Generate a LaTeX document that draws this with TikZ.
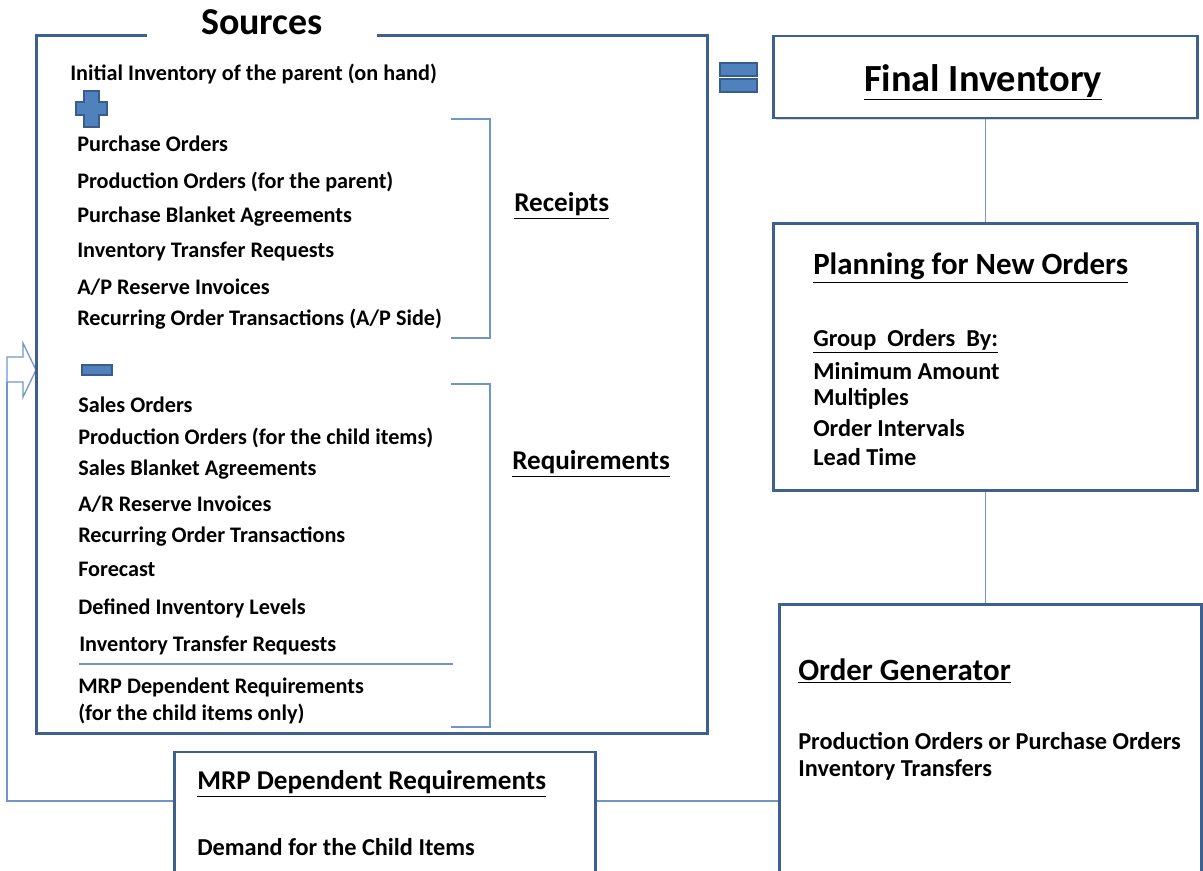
\documentclass[tikz,border=0pt]{standalone}
\usepackage{fontspec}
\setmainfont{Carlito}
\usetikzlibrary{shadows}
\definecolor{boxblue}{RGB}{62,96,145}
\definecolor{lineblue}{RGB}{112,150,200}
\definecolor{signblue}{RGB}{79,129,189}
\definecolor{signedge}{RGB}{56,93,138}

\begin{document}
\begin{tikzpicture}[x=0.025cm,y=-0.025cm,
 box/.style={draw=boxblue,line width=2.1pt,fill=white,drop shadow={shadow xshift=1.2pt,shadow yshift=-1.2pt,opacity=0.3}},
 conn/.style={draw=lineblue,line width=0.9pt},
 brk/.style={draw=lineblue,line width=0.9pt},
 sign/.style={fill=signblue,draw=signedge,line width=0.8pt},
 txt/.style={anchor=west,inner sep=0pt,font=\bfseries\fontsize{15.8}{18}\selectfont},
 rtxt/.style={anchor=west,inner sep=0pt,font=\bfseries\fontsize{17.3}{20}\selectfont},
 sub/.style={anchor=west,inner sep=0pt,font=\bfseries\fontsize{19.3}{22}\selectfont},
 head/.style={anchor=west,inner sep=0pt,font=\bfseries\fontsize{22}{26}\selectfont}]
 \useasboundingbox (0,0) rectangle (1203,870); %page
 \coordinate (fbl) at (7,801); %feedback corner
 \coordinate (fbt) at (7,382); %foot of the open arrow
 \draw[conn] (fbt) -- (7,357) -- (23,357) -- (23,343) -- (36,370) -- (23,397) -- (23,382) -- cycle; %open arrow
 \node[box,minimum width=16.75cm,minimum height=17.425cm] (src) at (372,384.5) {}; %Sources box
 \node[fill=white,minimum width=5.75cm,minimum height=1.1cm,font=\bfseries\fontsize{27}{30}\selectfont] (srctitle) at (262,22) {Sources}; %title in the gap
 \node[box,minimum width=10.575cm,minimum height=2.05cm] (fin) at (985.5,77) {}; %final
 \node[inner sep=0pt,font=\bfseries\fontsize{27.3}{30}\selectfont] (fintitle) at (983,82) {\underline{Final Inventory}};
 \node[box,minimum width=10.575cm,minimum height=6.65cm] (plan) at (985.5,357) {}; %planning
 \node[box,minimum width=10.525cm,minimum height=7cm] (gen) at (990.5,745) {}; %order generator
 \node[box,minimum width=10.5cm,minimum height=3.325cm] (mrp) at (385,818.5) {}; %MRP
 \draw[conn] (fin) -- (plan); %final - planning
 \draw[conn] (plan.south) -- (plan.south |- gen.north); %planning - generator
 \draw[conn] (gen.west |- fbl) -- (mrp.east |- fbl); %generator - MRP
 \draw[conn] (mrp.west |- fbl) -- (fbl) -- (fbt); %MRP back to sources
 \fill[sign] (720,63) rectangle (757,76) (720,79) rectangle (757,92); %equals
 \fill[sign] (84,91) -- (99,91) -- (99,102) -- (107,102) -- (107,115) -- (99,115) -- (99,127) -- (84,127) -- (84,115) -- (76,115) -- (76,102) -- (84,102) -- cycle; %plus
 \fill[sign] (82,365) rectangle (112,375); %minus
 \draw[brk] (451,119) -- (490,119) -- (490,338) -- (451,338); %receipts bracket
 \draw[brk] (451,384) -- (490,384) -- (490,727) -- (451,727); %requirements bracket
 \draw[brk] (79,664) -- (453,664); %separator
 \node[txt] (init) at (70,74) {Initial Inventory of the parent (on hand)};
 \node[txt] (r1) at (77,144) {Purchase Orders};
 \node[txt] (r2) at (77,182) {Production Orders (for the parent)};
 \node[txt] (r3) at (77,217) {Purchase Blanket Agreements};
 \node[txt] (r4) at (77,252) {Inventory Transfer Requests};
 \node[txt] (r5) at (77,287) {A/P Reserve Invoices};
 \node[txt] (r6) at (77,319) {Recurring Order Transactions (A/P Side)};
 \node[txt] (q1) at (78,405) {Sales Orders};
 \node[txt] (q2) at (78,438) {Production Orders (for the child items)};
 \node[txt] (q3) at (78,470) {Sales Blanket Agreements};
 \node[txt] (q4) at (78,504) {A/R Reserve Invoices};
 \node[txt] (q5) at (78,537) {Recurring Order Transactions};
 \node[txt] (q6) at (78,569) {Forecast};
 \node[txt] (q7) at (78,608) {Defined Inventory Levels};
 \node[txt] (q8) at (79,646) {Inventory Transfer Requests};
 \node[txt] (q9) at (78,687) {MRP Dependent Requirements};
 \node[txt] (q10) at (78,714) {(for the child items only)};
 \node[sub] (rec) at (514,206) {\underline{Receipts}};
 \node[sub] (req) at (512,464) {\underline{Requirements}};
 \node[head] (plantitle) at (813,268) {\underline{Planning for New Orders}};
 \node[rtxt] (grp) at (813,341) {\underline{Group\hspace{0.45em}Orders\hspace{0.45em}By:}};
 \node[rtxt] (g1) at (813,371) {Minimum Amount};
 \node[rtxt] (g2) at (813,399) {Multiples};
 \node[rtxt] (g3) at (813,428) {Order Intervals};
 \node[rtxt] (g4) at (813,457) {Lead Time};
 \node[head] (gentitle) at (798,671) {\underline{Order Generator}};
 \node[rtxt] (o1) at (798,741) {Production Orders or Purchase Orders};
 \node[rtxt] (o2) at (798,770) {Inventory Transfers};
 \node[sub] (mrptitle) at (197,784) {\underline{MRP Dependent Requirements}};
 \node[rtxt] (dem) at (197,847) {Demand for the Child Items};
\end{tikzpicture}
\end{document}
